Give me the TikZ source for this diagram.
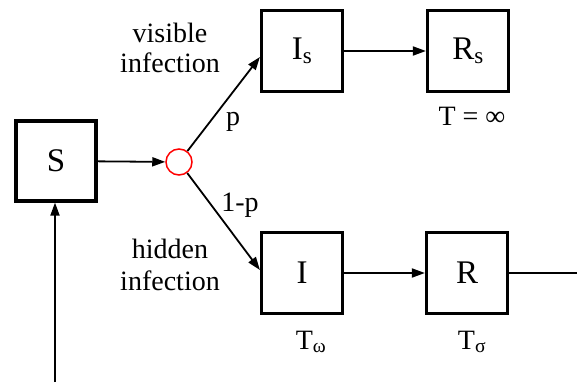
\documentclass[tikz,border=0pt]{standalone}
\usepackage{fontspec}
\setmainfont{Liberation Serif}
\usetikzlibrary{arrows.meta}
\begin{document}
\begin{tikzpicture}[x=1pt,y=-1pt,
  box/.style={draw,line width=3.2pt,minimum width=81pt,minimum height=81pt,
    inner sep=0pt,font=\fontsize{33}{38}\selectfont},
  flow/.style={line width=1.8pt,-{Triangle[length=13pt,width=9pt]}},
  plain/.style={line width=1.8pt},
  lbl/.style={font=\fontsize{28}{32}\selectfont,inner sep=0pt,anchor=base},
  junction/.style={circle,draw=red,line width=1.5pt,minimum size=26pt,inner sep=0pt}]
\useasboundingbox (0,0) rectangle (577,382);

% compartments
\node[box,minimum width=80pt,minimum height=80pt] (S) at (56,161) {S};
\node[box] (Is) at (302,51) {I\textsubscript{s}};
\node[box] (Rs) at (468,51) {R\textsubscript{s}};
\node[box] (I) at (302,273) {I};
\node[box] (R) at (467,273) {R};
\node[junction] (c) at (179,162) {};

% free ends of the recycling path
\coordinate (out) at (577,273);
\coordinate (fb) at (55,382);

% flows
\draw[flow] (S) -- (c);
\draw[flow] (c) -- ([yshift=-6pt]Is.west);
\draw[flow] (c) -- ([yshift=3pt]I.west);
\draw[flow] (Is) -- (Rs);
\draw[flow] (I) -- (R);
\draw[plain] (R) -- (out);
\draw[flow] (fb) -- (S.south -| fb);

% labels
\node[lbl] (v1) at (170,43) {visible};
\node[lbl] (v2) at (170,73) {infection};
\node[lbl] (h1) at (170,258) {hidden};
\node[lbl] (h2) at (170,290) {infection};
\node[lbl] (pp) at (233,126) {p};
\node[lbl] (pq) at (240,211) {1-p};
\node[lbl] (tinf) at (472,126) {T = ∞};
\node[lbl] (tw) at (311,349) {T\textsubscript{ω}};
\node[lbl] (ts) at (472,349) {T\textsubscript{σ}};
\end{tikzpicture}
\end{document}
